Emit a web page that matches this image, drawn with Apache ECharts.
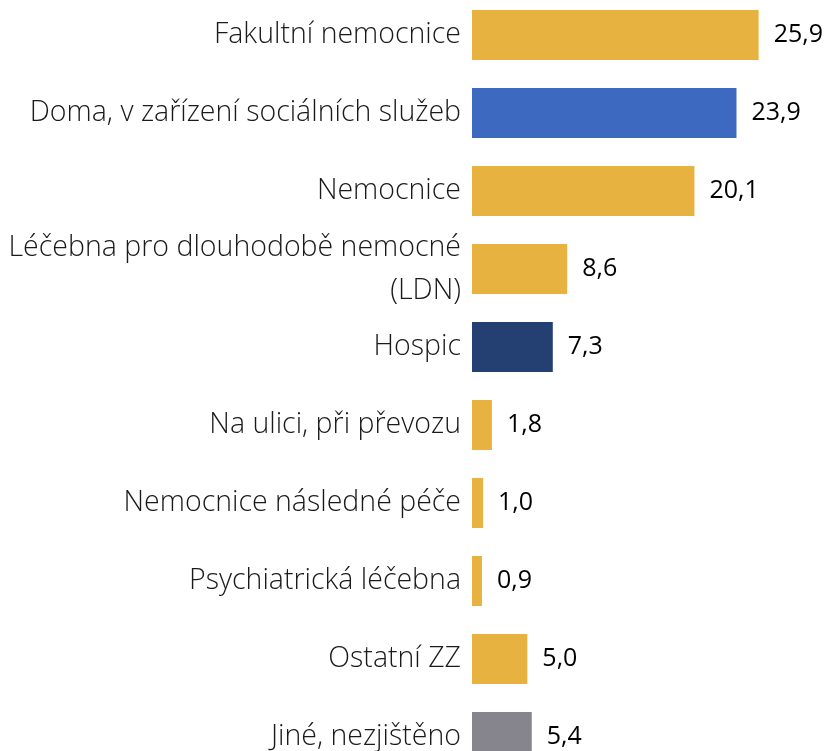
<!DOCTYPE html>
<html>
<head>
<meta charset="utf-8">
<script src="https://cdn.jsdelivr.net/npm/echarts@6/dist/echarts.min.js"></script>
<style>
  html, body { margin: 0; padding: 0; background: #fff; overflow: hidden; }
  /* chart is a bit taller than the window: last bar is cut off like in the source */
  #chart { position: absolute; left: 0; top: -4px; width: 833px; height: 780px; }
</style>
</head>
<body>
<div id="chart"></div>
<script>
const categories = [
  'Fakultní nemocnice',
  'Doma, v zařízení sociálních služeb',
  'Nemocnice',
  'Léčebna pro dlouhodobě nemocné\n(LDN)',
  'Hospic',
  'Na ulici, při převozu',
  'Nemocnice následné péče',
  'Psychiatrická léčebna',
  'Ostatní ZZ',
  'Jiné, nezjištěno'
]
const values = [25.9, 23.9, 20.1, 8.6, 7.3, 1.8, 1.0, 0.9, 5.0, 5.4]
const barColors = ['#E7B23F', '#3D69C0', '#E7B23F', '#E7B23F', '#243F72', '#E7B23F', '#E7B23F', '#E7B23F', '#E7B23F', '#86858E']

const fontFamily = '"Open Sans"'
const chart = echarts.init(document.getElementById('chart'))

chart.setOption({
  animation: false,
  grid: {
    left: 472,
    top: 0,
    height: 780,
    width: 332
  },
  xAxis: {
    type: 'value',
    min: 0,
    max: 30,
    show: false
  },
  yAxis: {
    type: 'category',
    inverse: true,
    data: categories,
    axisLine: { show: false },
    axisTick: { show: false },
    axisLabel: {
      margin: 11,
      fontSize: 28.5,
      fontWeight: 300,
      lineHeight: 43,
      color: '#1a1a1a',
      fontFamily: fontFamily
    }
  },
  series: [
    {
      type: 'bar',
      barWidth: 50,
      data: values.map((v, i) => ({ value: v, itemStyle: { color: barColors[i] } })),
      label: {
        show: true,
        position: 'right',
        distance: 15,
        fontSize: 25,
        color: '#000',
        fontFamily: fontFamily,
        formatter: p => p.value.toFixed(1).replace('.', ',')
      }
    }
  ]
})
</script>
</body>
</html>
